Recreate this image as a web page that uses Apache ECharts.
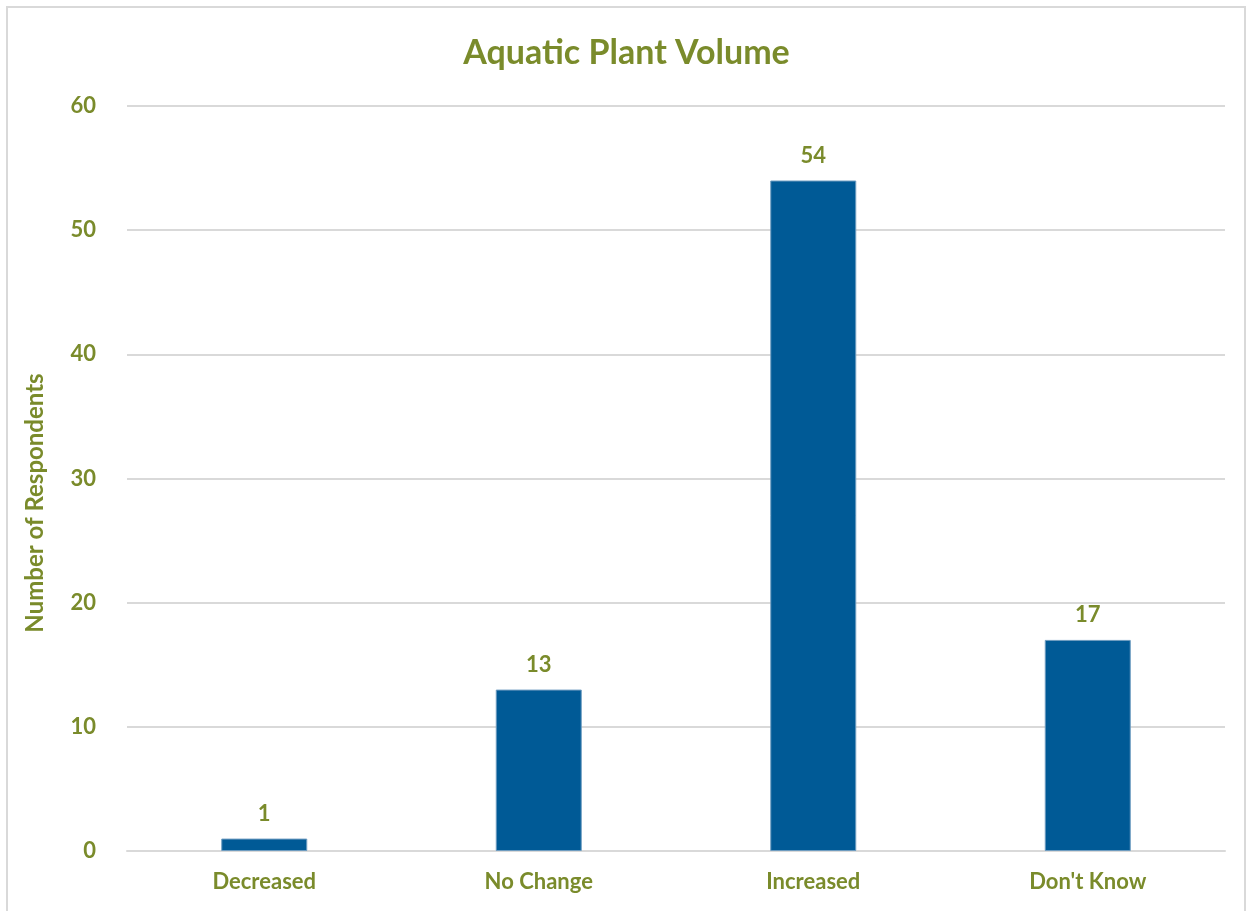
<!DOCTYPE html>
<html>
<head>
<meta charset="utf-8">
<script src="https://cdn.jsdelivr.net/npm/echarts@6/dist/echarts.min.js"></script>
<style>
  html, body { margin: 0; padding: 0; background: #fff; }
  #chart { width: 1253px; height: 911px; }
</style>
</head>
<body>
<div id="chart"></div>
<script>
const categories = ["Decreased", "No Change", "Increased", "Don't Know"];
const respondents = [1, 13, 54, 17];
const yTicks = [0, 10, 20, 30, 40, 50, 60];
const yAxisTitle = 'Number of Respondents';

const green = '#7A8B2B';
const font = 'Lato, "Open Sans", sans-serif';

const chart = echarts.init(document.getElementById('chart'), null, { renderer: 'canvas' });
chart.setOption({
  backgroundColor: '#ffffff',
  animation: false,
  title: {
    text: 'Aquatic Plant Volume',
    left: 'center',
    top: 31,
    textStyle: { color: green, fontFamily: font, fontWeight: 'bold', fontSize: 34 }
  },
  graphic: [{
    type: 'rect',
    shape: { x: 7, y: 7, width: 1238, height: 920 },
    style: { fill: 'none', stroke: '#d9d9d9', lineWidth: 2 },
    silent: true
  }, {
    // vertical axis title, sitting a little below the plot's midline
    type: 'text',
    x: 35,
    y: 503,
    rotation: Math.PI / 2,
    style: {
      text: yAxisTitle,
      fill: green,
      font: 'bold 24px ' + font,
      align: 'center',
      verticalAlign: 'middle'
    },
    silent: true
  }],
  grid: { left: 127, right: 28, top: 106, bottom: 60 },
  xAxis: {
    type: 'category',
    data: categories,
    axisLine: { show: true, lineStyle: { color: '#d9d9d9', width: 2 } },
    axisTick: { show: false },
    axisLabel: { color: green, fontFamily: font, fontWeight: 'bold', fontSize: 22, margin: 20 }
  },
  yAxis: {
    type: 'value',
    min: yTicks[0],
    max: yTicks[yTicks.length - 1],
    interval: 10,
    axisLine: { show: false },
    axisTick: { show: false },
    splitLine: { lineStyle: { color: '#d9d9d9', width: 2 } },
    axisLabel: { color: green, fontFamily: font, fontWeight: 'bold', fontSize: 22, margin: 31 }
  },
  series: [{
    type: 'bar',
    data: respondents,
    barWidth: 86,
    itemStyle: { color: '#005A96', borderColor: '#6E9CC0', borderWidth: 1 },
    label: {
      show: true,
      position: 'top',
      distance: 14,
      color: green,
      fontFamily: font,
      fontWeight: 'bold',
      fontSize: 22
    }
  }]
});
</script>
</body>
</html>
